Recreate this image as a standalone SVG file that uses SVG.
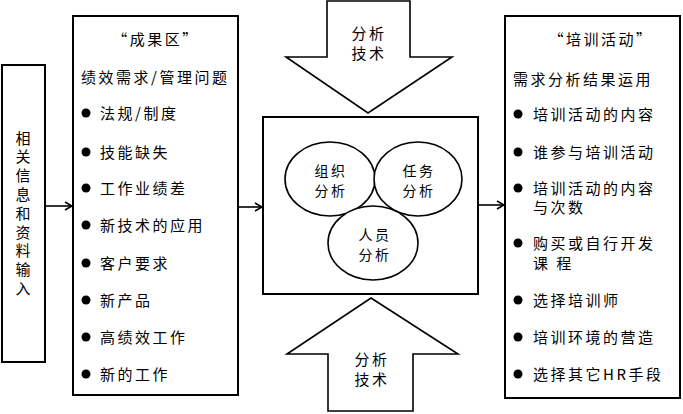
<svg xmlns="http://www.w3.org/2000/svg" width="683" height="414" viewBox="0 0 683 414">
<style>
.box{fill:#fff;stroke:#000;stroke-width:2}
.ell{fill:#fff;stroke:#000;stroke-width:1.6}
.blk{fill:#fff;stroke:#000;stroke-width:1.6;stroke-linejoin:miter}
.t{font-family:"Noto Sans CJK SC","Liberation Sans",sans-serif;font-size:15px;fill:#000;letter-spacing:2.5px}
.s{font-size:14px}
.c{text-anchor:middle}
.v{writing-mode:vertical-rl;letter-spacing:3.8px}
.con{stroke:#000;stroke-width:1.6;fill:none}
</style>
<defs>
<marker id="ah" markerWidth="10" markerHeight="10" refX="9" refY="5" orient="auto" markerUnits="userSpaceOnUse">
<path d="M2,1 L9,5 L2,9" fill="none" stroke="#000" stroke-width="1.6"/>
</marker>
</defs>
<g id="connectors">
<line class="con" x1="45" y1="206" x2="72" y2="206" marker-end="url(#ah)"/>
<line class="con" x1="238" y1="207" x2="262" y2="207" marker-end="url(#ah)"/>
<line class="con" x1="478" y1="205" x2="504" y2="205" marker-end="url(#ah)"/>
</g>
<g id="input">
<rect class="box" x="2" y="65" width="43" height="297"/>
<text class="t v" x="23" y="130.5">相关信息和资料输入</text>
</g>
<g id="results">
<rect class="box" x="73" y="16" width="165" height="379"/>
<text class="t c" x="156" y="44.5">“成果区”</text>
<text class="t" x="81" y="82.5">绩效需求/管理问题</text>
<g fill="#000">
<circle cx="86" cy="113" r="4.5"/><circle cx="86" cy="152" r="4.5"/><circle cx="86" cy="188" r="4.5"/><circle cx="86" cy="225" r="4.5"/><circle cx="86" cy="263" r="4.5"/><circle cx="86" cy="300" r="4.5"/><circle cx="86" cy="337" r="4.5"/><circle cx="86" cy="374" r="4.5"/>
</g>
<g class="t">
<text x="100" y="118.5">法规/制度</text>
<text x="100" y="157.5">技能缺失</text>
<text x="100" y="193.5">工作业绩差</text>
<text x="100" y="230.5">新技术的应用</text>
<text x="100" y="268.5">客户要求</text>
<text x="100" y="305.5">新产品</text>
<text x="100" y="342.5">高绩效工作</text>
<text x="100" y="379.5">新的工作</text>
</g>
</g>
<g id="top-arrow">
<polygon class="blk" points="327,1 410,1 410,57 452,57 368,113 286,57 327,57"/>
<text class="t c" x="369" y="38.5">分析</text>
<text class="t c" x="369" y="58.5">技术</text>
</g>
<g id="bottom-arrow">
<polygon class="blk" points="371,298 458,354 413,354 413,411 328,411 328,354 287,354"/>
<text class="t c" x="372" y="365">分析</text>
<text class="t c" x="372" y="384.5">技术</text>
</g>
<g id="analysis">
<rect class="box" x="263" y="117" width="215" height="177"/>
</g>
<g id="org-analysis">
<ellipse class="ell" cx="330" cy="179" rx="45" ry="37"/>
<text class="t s c" x="331" y="175.5">组织<tspan x="331" dy="20">分析</tspan></text>
</g>
<g id="task-analysis">
<ellipse class="ell" cx="418" cy="179" rx="44" ry="37"/>
<text class="t s c" x="419" y="175.5">任务<tspan x="419" dy="20">分析</tspan></text>
</g>
<g id="person-analysis">
<ellipse class="ell" cx="373" cy="243" rx="45" ry="37"/>
<text class="t s c" x="375" y="239.5">人员<tspan x="375" dy="20">分析</tspan></text>
</g>
<g id="training">
<rect class="box" x="505" y="16" width="175" height="382"/>
<text class="t c" x="601" y="44.5">“培训活动”</text>
<text class="t" x="513" y="84.5">需求分析结果运用</text>
<g fill="#000">
<circle cx="518" cy="114" r="4.5"/><circle cx="518" cy="152" r="4.5"/><circle cx="518" cy="188" r="4.5"/><circle cx="518" cy="243" r="4.5"/><circle cx="518" cy="300" r="4.5"/><circle cx="518" cy="337" r="4.5"/><circle cx="518" cy="374" r="4.5"/>
</g>
<g class="t">
<text x="533" y="119.5">培训活动的内容</text>
<text x="533" y="157.5">谁参与培训活动</text>
<text x="533" y="193.5">培训活动的内容<tspan x="533" dy="19.5">与次数</tspan></text>
<text x="533" y="248.5">购买或自行开发<tspan x="533" dy="20">课 程</tspan></text>
<text x="533" y="305.5">选择培训师</text>
<text x="533" y="342.5">培训环境的营造</text>
<text x="533" y="379.5">选择其它HR手段</text>
</g>
</g>
</svg>
